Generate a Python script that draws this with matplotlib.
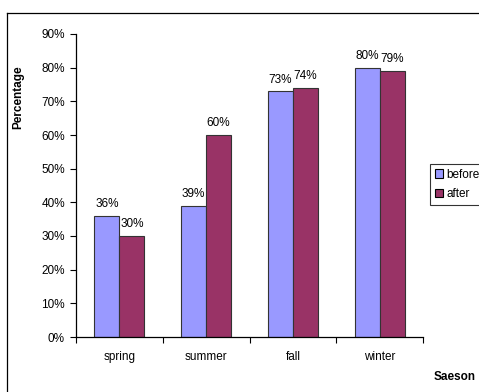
import matplotlib
matplotlib.use("Agg")
import matplotlib.pyplot as plt
from matplotlib.lines import Line2D
from matplotlib.patches import Patch
import numpy as np

seasons = ["spring", "summer", "fall", "winter"]
before = [36, 39, 73, 80]
after = [30, 60, 74, 79]
series_names = ["before", "after"]
yticks = [0, 10, 20, 30, 40, 50, 60, 70, 80, 90]

plt.rcParams['font.family'] = ['Liberation Sans', 'DejaVu Sans']
FS = 8.5

W, H = 479, 392
fig = plt.figure(figsize=(W / 100, H / 100), dpi=100)
fig.patch.set_facecolor("white")

# outer chart frame
fig.add_artist(Line2D([7 / W, 1.01], [1 - 13 / H, 1 - 13 / H], transform=fig.transFigure,
                      color="black", lw=0.9))
fig.add_artist(Line2D([7 / W, 7 / W], [1 - 13 / H, -0.01], transform=fig.transFigure,
                      color="black", lw=0.9))

ax = fig.add_axes([76 / W, 55 / H, (423 - 76) / W, (337 - 34) / H])
x = np.arange(len(seasons))
bw = 0.288
c_before = "#9999FF"
c_after = "#993366"
b1 = ax.bar(x - bw / 2, before, bw, color=c_before, edgecolor="#333333", linewidth=0.8)
b2 = ax.bar(x + bw / 2, after, bw, color=c_after, edgecolor="#333333", linewidth=0.8)

for bars, vals in ((b1, before), (b2, after)):
    for r, v in zip(bars, vals):
        ax.annotate(f"{v}%", (r.get_x() + r.get_width() / 2, v), xytext=(0, 4),
                    textcoords="offset points", ha="center", va="bottom", fontsize=FS)

ax.set_xlim(-0.5, len(seasons) - 0.5)
ax.set_ylim(0, 90)
ax.set_yticks(yticks)
ax.set_yticklabels([f"{t}%" for t in yticks], fontsize=FS)
ax.tick_params(axis="y", direction="out", length=4, width=0.8, pad=4)

ax.set_xticks(np.arange(len(seasons) + 1) - 0.5)
ax.set_xticklabels([])
ax.set_xticks(x, minor=True)
ax.set_xticklabels(seasons, minor=True, fontsize=FS)
ax.tick_params(axis="x", which="major", direction="out", length=4, width=0.8)
ax.tick_params(axis="x", which="minor", length=0, pad=10)

for s in ("top", "right"):
    ax.spines[s].set_visible(False)
for s in ("left", "bottom"):
    ax.spines[s].set_linewidth(0.9)
    ax.spines[s].set_color("black")

fig.text(18 / W, 1 - 97 / H, "Percentage", rotation=90, ha="center", va="center",
         fontsize=FS, fontweight="bold")
fig.text(434 / W, 1 - 377 / H, "Saeson", ha="left", va="center",
         fontsize=FS, fontweight="bold")

handles = [Patch(facecolor=c_before, edgecolor="black", linewidth=0.8),
           Patch(facecolor=c_after, edgecolor="black", linewidth=0.8)]
leg = fig.legend(handles, series_names, loc="upper left",
                 bbox_to_anchor=(430 / W, 1 - 164 / H), fontsize=FS,
                 frameon=True, fancybox=False, shadow=False,
                 handlelength=0.7, handleheight=0.7, handletextpad=0.3,
                 labelspacing=0.6, borderpad=0.4, borderaxespad=0)
leg.get_frame().set_edgecolor("black")
leg.get_frame().set_linewidth(0.8)

fig.savefig("out.png", dpi=100, facecolor="white")
